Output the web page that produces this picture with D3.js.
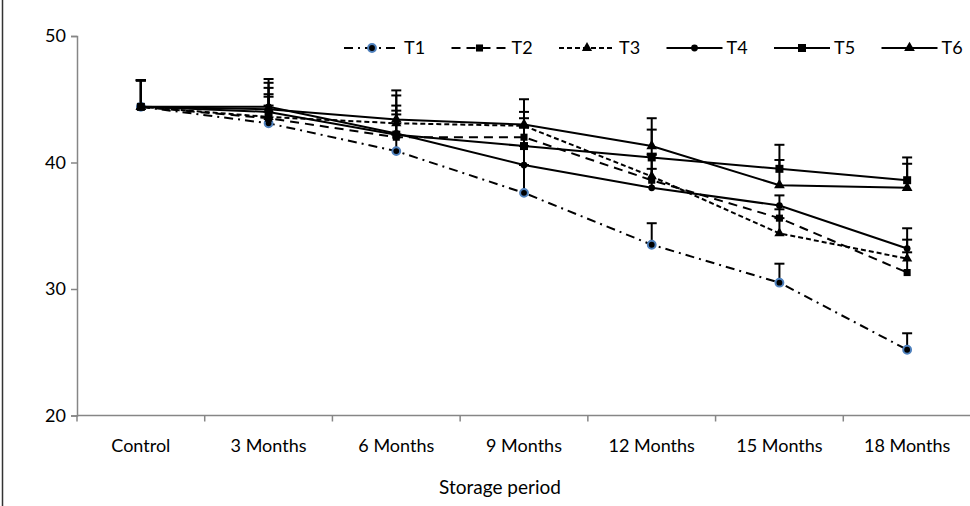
<!DOCTYPE html>
<html>
<head>
<meta charset="utf-8">
<script src="https://cdn.jsdelivr.net/npm/d3@7"></script>
<style>
  body { margin: 0; background: #fff; }
  svg { display: block; font-family: Lato, "Open Sans", sans-serif; }
</style>
</head>
<body>
<div id="chart"></div>
<script>
// Data
const categories = ['Control', '3 Months', '6 Months', '9 Months', '12 Months', '15 Months', '18 Months']
const seriesNames = ['T1', 'T2', 'T3', 'T4', 'T5', 'T6']
const T1 = [44.4, 43.1, 40.9, 37.6, 33.5, 30.5, 25.2]
const T2 = [44.4, 43.5, 42.0, 42.0, 38.6, 35.6, 31.3]
const T3 = [44.4, 43.6, 43.1, 42.9, 38.9, 34.4, 32.4]
const T4 = [44.4, 44.4, 42.3, 39.8, 38.0, 36.6, 33.2]
const T5 = [44.4, 44.0, 42.2, 41.3, 40.4, 39.5, 38.6]
const T6 = [44.4, 44.2, 43.4, 43.0, 41.3, 38.2, 38.0]
const T1err = [2.1, 1.4, 1.3, 2.2, 1.7, 1.5, 1.3]
const T2err = [2.1, 1.9, 2.1, 1.5, 2.0, 0.7, 1.6]
const T3err = [2.1, 1.6, 2.2, 1.1, 1.8, 1.2, 1.5]
const T4err = [2.1, 2.2, 1.5, 1.5, 1.5, 0.8, 1.6]
const T5err = [2.1, 1.9, 2.3, 1.5, 2.2, 1.9, 1.8]
const T6err = [2.1, 2.1, 2.3, 2.0, 2.2, 2.0, 1.9]
const yTicks = [20, 30, 40, 50]

const values = [T1, T2, T3, T4, T5, T6]
const errors = [T1err, T2err, T3err, T4err, T5err, T6err]

// Styles per series
const DASH = ['9,5,2,5', '9,6', '5,3', null, null, null]
const SHAPE = ['circle', 'square', 'triangle', 'circle', 'square', 'triangle']
const SIZE = [48, 50, 45, 36, 64, 50]

const width = 970
const height = 506
const svg = d3.select('#chart').append('svg')
  .attr('width', width)
  .attr('height', height)

// Frame left edge
svg.append('line')
  .attr('x1', 2.5).attr('x2', 2.5)
  .attr('y1', 0).attr('y2', height)
  .attr('stroke', '#333').attr('stroke-width', 1.5)

// Scales
const x = d3.scaleBand().domain(categories).range([77, 971]).padding(0)
const cx = c => x(c) + x.bandwidth() / 2
const y = d3.scaleLinear().domain([20, 50]).range([415.5, 36])

// Y axis
const yAxis = svg.append('g')
  .attr('transform', 'translate(77,0)')
  .call(d3.axisLeft(y).tickValues(yTicks).tickSize(6).tickPadding(5))
yAxis.select('.domain').attr('stroke', '#868686').attr('stroke-width', 1.5)
yAxis.selectAll('.tick line').attr('stroke', '#868686').attr('stroke-width', 1.5)
yAxis.selectAll('text').attr('font-size', 18).attr('fill', '#000').attr('font-family', 'Lato')

// X axis
svg.append('line')
  .attr('x1', 77).attr('x2', 971)
  .attr('y1', y(20)).attr('y2', y(20))
  .attr('stroke', '#868686').attr('stroke-width', 1.5)
svg.append('g')
  .selectAll('line')
  .data(categories)
  .enter()
  .append('line')
  .attr('x1', d => x(d)).attr('x2', d => x(d))
  .attr('y1', y(20)).attr('y2', y(20) + 6)
  .attr('stroke', '#868686').attr('stroke-width', 1.5)
svg.append('g')
  .selectAll('text')
  .data(categories)
  .enter()
  .append('text')
  .attr('x', d => cx(d))
  .attr('y', 452)
  .attr('text-anchor', 'middle')
  .attr('font-size', 18)
  .text(d => d)

// Axis title
svg.append('text')
  .attr('x', 500)
  .attr('y', 494)
  .attr('text-anchor', 'middle')
  .attr('font-size', 19)
  .text('Storage period')

function symbolFor(i) {
  const type = SHAPE[i] === 'circle' ? d3.symbolCircle : SHAPE[i] === 'square' ? d3.symbolSquare : d3.symbolTriangle
  return d3.symbol().type(type).size(SIZE[i])()
}

// Error bars (plus direction)
values.forEach((vals, i) => {
  const g = svg.append('g')
  g.selectAll('line.bar')
    .data(vals)
    .enter()
    .append('line')
    .attr('x1', (_, j) => cx(categories[j]))
    .attr('x2', (_, j) => cx(categories[j]))
    .attr('y1', d => y(d))
    .attr('y2', (d, j) => y(d + errors[i][j]))
    .attr('stroke', '#000').attr('stroke-width', 2)
  g.selectAll('line.cap')
    .data(vals)
    .enter()
    .append('line')
    .attr('x1', (_, j) => cx(categories[j]) - 5)
    .attr('x2', (_, j) => cx(categories[j]) + 5)
    .attr('y1', (d, j) => y(d + errors[i][j]))
    .attr('y2', (d, j) => y(d + errors[i][j]))
    .attr('stroke', '#000').attr('stroke-width', 2)
})

// Lines and markers
const line = d3.line()
  .x((_, j) => cx(categories[j]))
  .y(d => y(d))

values.forEach((vals, i) => {
  svg.append('path')
    .datum(vals)
    .attr('d', line)
    .attr('fill', 'none')
    .attr('stroke', '#000')
    .attr('stroke-width', 2)
    .attr('stroke-dasharray', DASH[i])
  svg.append('g')
    .selectAll('path')
    .data(vals)
    .enter()
    .append('path')
    .attr('d', symbolFor(i))
    .attr('transform', (d, j) => `translate(${cx(categories[j])},${y(d)})`)
    .attr('fill', '#000')
    .attr('stroke', i === 0 ? '#4f81bd' : 'none')
    .attr('stroke-width', i === 0 ? 2 : 0)
})

// Legend
const legendX = 344
const legendY = 48
const itemW = 107.5
const legend = svg.append('g').attr('id', 'legend')
seriesNames.forEach((name, i) => {
  const g = legend.append('g').attr('transform', `translate(${legendX + i * itemW},${legendY})`)
  g.append('line')
    .attr('x1', 0).attr('x2', 56)
    .attr('y1', 0).attr('y2', 0)
    .attr('stroke', '#000').attr('stroke-width', 2)
    .attr('stroke-dasharray', DASH[i])
  g.append('path')
    .attr('d', symbolFor(i))
    .attr('transform', 'translate(28,0)')
    .attr('fill', '#000')
    .attr('stroke', i === 0 ? '#4f81bd' : 'none')
    .attr('stroke-width', i === 0 ? 2 : 0)
  g.append('text')
    .attr('x', 60)
    .attr('y', 0)
    .attr('dy', '0.35em')
    .attr('font-size', 18)
    .text(name)
})
</script>
</body>
</html>
